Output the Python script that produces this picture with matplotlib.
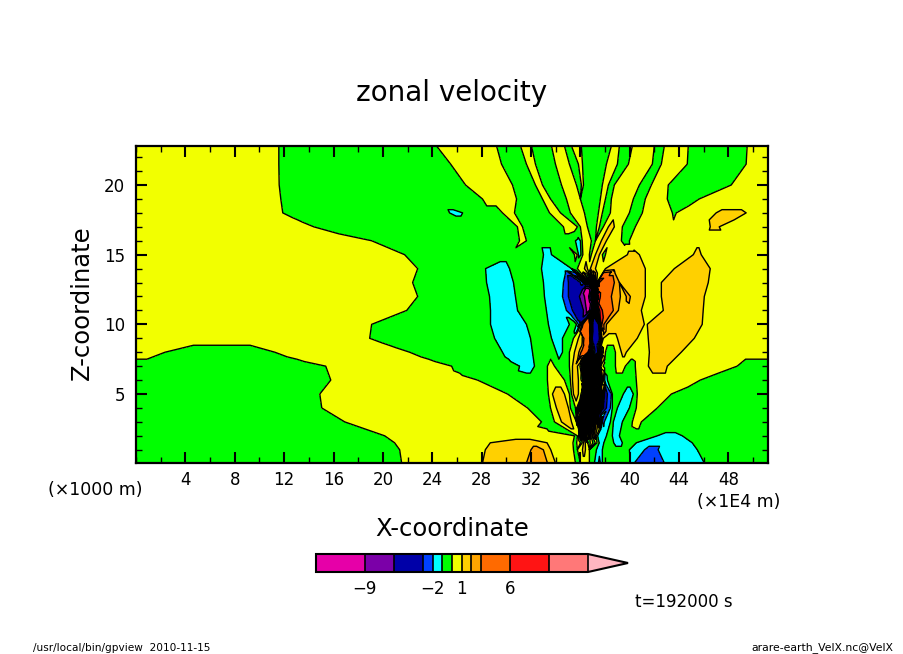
import matplotlib
matplotlib.use("Agg")
import numpy as np
import matplotlib.pyplot as plt
import matplotlib.tri as mtri
from matplotlib.ticker import MultipleLocator

# colour-band centre values (zonal velocity, m/s)
M, P, N, B, C, G, Y, O1, O2, O3, R, S = -11.0, -7.5, -4.5, -2.5, -1.5, -0.5, 0.5, 1.5, 2.5, 4.5, 8.0, 12.0
Ct, Ot = -1.15, 1.15

levels = [-14, -9, -6, -3, -2, -1, 0, 1, 2, 3, 6, 10, 14]
band_colors = ['#e600a8', '#7b00a8', '#0000a8', '#0040ff', '#00ffff', '#00ff00', '#f2ff00',
               '#ffd000', '#ffa500', '#ff6a00', '#ff1414', '#ff7878', '#ffb6c1']
cbar_ticks = [-9, -2, 1, 6]
x_ticks = [4, 8, 12, 16, 20, 24, 28, 32, 36, 40, 44, 48]
X_MAX, Z_MIN, Z_MAX = 51.2, 0.05, 22.8

# values read row by row: (z, first x, [band, edge, band, edge, ... band], last x)
rows = [
 (22.8, 0, [Y,11.57,G,24.35,Y,29.21,G,31.15,Y,32.04,G,33.66,Y,34.71,G,35.28,Y,36.08,G,38.51,Y,39.16,G,40.21,Y,41.99,G,42.8,Y,44.74,G,49.51,Y], X_MAX),
 (21.5, 0, [Y,11.57,G,25.49,Y,29.61,G,31.63,Y,32.36,G,33.98,Y,35.11,G,35.84,Y,36.17,G,38.11,Y,39.0,G,39.89,Y,41.83,G,42.56,Y,44.66,G,49.43,Y], X_MAX),
 (20.0, 0, [Y,11.6,G,26.7,Y,30.5,G,32.36,Y,32.93,G,34.47,Y,35.68,G,36.08,Y,36.25,G,37.78,Y,38.27,G,38.75,Y,40.78,G,41.75,Y,43.12,G,48.22,Y], X_MAX),
 (19.0, 0, [Y,11.73,G,28.07,Y,30.83,G,32.93,Y,33.58,G,34.87,Y,36.0,G,37.62,Y,38.03,G,38.51,Y,40.29,G,41.26,Y,43.04,G,45.63,Y], X_MAX),
 (18.0, 0, [Y,11.89,G,25.4,Ct,26.46,G,29.69,Y,30.66,G,33.5,Y,34.39,G,35.19,Y,36.33,G,37.46,Y,37.78,G,38.43,Y,39.97,G,41.02,Y,43.45,G,43.77,Y,47.0,Ot,49.43,Y], X_MAX),
 (17.5, 44, [Y,46.44,O1,48.46,Y], X_MAX),
 (17.0, 0, [Y,14.4,G,30.9,Y,31.31,G,34.63,Y,35.76,G,36.0,Y,36.57,G,37.3,Y,37.54,G,37.86,Y,38.27,O1,38.75,Y,39.4,G,40.45,Y,46.52,Ot,47.25,Y], X_MAX),
 (16.0, 0, [Y,19.09,G,31.07,Y,31.63,G,35.6,Ct,36.0,G,36.15,Y,36.89,G,37.22,Y,37.7,O1,38.11,Y,39.32,G,39.97,Y], X_MAX),
 (15.0, 0, [Y,21.76,G,33.01,C,33.66,G,35.52,Y,35.75,G,35.85,Ct,36.05,G,36.2,Y,36.73,G,36.89,Y,37.22,O1,37.54,Y,37.78,G,38.03,Y,39.81,O1,40.78,Y,45.15,O1,45.79,Y], X_MAX),
 (14.0, 0, [Y,22.82,G,28.32,C,30.26,G,32.85,C,35.28,G,35.76,Y,36.33,O1,36.57,Y,36.81,O1,37.22,Y,38.03,O1,41.26,Y,43.61,O1,46.52,Y], X_MAX),
 (13.0, 0, [Y,22.41,G,28.4,C,30.58,G,33.01,C,34.63,B,35.03,N,36.0,B,36.25,C,36.33,N,36.41,O1,36.57,N,36.65,O2,36.81,C,36.89,O1,37.06,N,37.14,O3,37.3,Y,37.38,R,37.54,O3,38.75,O2,39.16,O1,41.26,Y,42.56,O1,46.36,Y], X_MAX),
 (12.5, 36.4, [M,36.85,N,37.0,R,37.2,Y,37.4,O3], 37.7),
 (12.0, 0, [Y,22.82,G,28.64,C,30.74,G,33.09,C,34.55,B,35.03,N,35.92,P,36.33,M,36.89,O3,37.06,N,37.14,R,37.3,N,37.38,S,37.46,R,37.62,O3,38.51,O2,39.24,O1,39.72,O2,40.05,O1,41.26,Y,42.56,O1,46.04,Y], X_MAX),
 (11.5, 36.5, [M,36.9,N,37.05,R,37.2,C,37.35,R,37.5,O3], 37.7),
 (11.0, 0, [Y,21.93,G,28.72,C,30.91,G,33.25,C,34.87,B,35.36,N,36.25,P,36.49,M,36.81,N,36.97,O3,37.14,N,37.22,R,37.38,G,37.46,R,37.78,O3,38.67,O2,39.08,O1,40.94,Y,42.72,O1,45.95,Y], X_MAX),
 (10.5, 36.3, [N,36.6,O3,36.75,N,36.9,R,37.05,N,37.2,O2,37.35,N,37.5,R], 37.8),
 (10.0, 0, [Y,19.09,G,28.72,C,31.63,G,33.41,C,35.11,G,35.76,B,36.08,O3,36.9,N,37.55,Y,37.62,R,37.78,O2,38.11,O1,41.18,Y,41.42,O1,45.87,Y], X_MAX),
 (9.5, 36.0, [O3,36.9,N,37.6,O1], 37.8),
 (9.0, 0, [Y,18.93,G,29.05,C,31.96,G,33.66,C,34.55,G,35.44,Y,35.84,O1,36.25,O3,36.85,N,37.54,B,37.7,O1,37.86,Y,39.0,O1,40.61,Y,41.5,O1,45.23,Y], X_MAX),
 (8.5, 35.9, [O1,36.2,O3,36.8,O1,36.95,N,37.5,O1,37.7,Y], 37.9),
 (8.0, 0, [Y,2.35,G,11.25,Y,22.17,G,29.69,C,32.12,G,34.06,C,34.55,G,35.11,Y,35.52,O1,36.0,O3,36.73,N,36.89,O1,37.06,N,37.54,O1,37.62,B,37.78,Y,38.03,G,38.84,Y,39.32,O1,39.72,Y,41.59,O1,44.17,Y], X_MAX),
 (7.5, 35.9, [O1,36.2,N,36.4,O2,36.55,N,36.8,O1,37.0,N,37.2,Y,37.4,N,37.6,O1], 37.9),
 (7.0, 0, [G,15.37,Y,25.57,G,31.07,C,32.28,G,33.33,Y,33.9,G,35.11,Y,35.36,O1,35.76,Y,36.08,N,36.25,O1,36.41,N,36.65,O1,36.81,B,36.97,O1,37.06,N,37.3,Y,37.38,N,37.54,O1,37.7,G,38.84,Y,39.64,G,40.45,Y,41.51,O1,43.04,Y,48.7,G], X_MAX),
 (6.5, 35.9, [Y,36.15,N,36.3,O1,36.45,N,36.6,Y,36.75,B,36.95,O2,37.1,N,37.25,O1,37.45,N,37.65,O1], 37.9),
 (6.0, 0, [G,15.78,Y,27.67,G,33.33,Y,34.71,G,35.19,Y,35.36,O1,35.84,Y,36.17,B,36.33,O1,36.49,N,36.73,O2,36.89,N,37.06,Y,37.22,B,37.38,O1,37.54,N,37.7,O1,37.86,C,38.19,G,40.53,Y,45.71,G], X_MAX),
 (5.5, 35.9, [Y,36.15,O1,36.3,N,36.45,O2,36.6,B,36.75,Y,36.9,N,37.05,O1,37.25,C,37.4,N,37.6,O1], 37.9),
 (5.0, 0, [G,14.89,Y,30.1,G,33.41,Y,33.74,O1,34.71,Y,35.11,G,35.28,Y,35.44,O1,35.84,Y,36.17,N,36.33,O1,36.49,B,36.65,O2,36.81,N,36.97,O1,37.14,B,37.3,Y,37.46,N,37.62,O1,37.86,N,38.19,B,38.51,C,38.59,G,39.48,C,40.29,G,40.61,Y,43.37,G], X_MAX),
 (4.5, 35.8, [Y,36.0,N,36.15,O1,36.3,B,36.5,Y,36.65,N,36.85,O1,37.0,N,37.2,O2,37.4,B,37.6,O1,37.85,N], 38.05),
 (4.0, 0, [G,15.05,Y,31.72,G,33.58,Y,34.06,O1,35.03,Y,35.19,G,35.6,Y,35.76,N,35.92,O1,36.08,B,36.25,Y,36.41,N,36.57,O1,36.73,C,36.89,O2,37.06,N,37.22,Y,37.38,B,37.54,O1,37.78,N,38.11,B,38.43,C,38.59,G,39.0,C,39.97,G,40.53,Y,42.23,G], X_MAX),
 (3.5, 35.8, [Y,36.0,B,36.15,O2,36.3,N,36.5,O1,36.65,B,36.8,Y,37.0,N,37.2,O1,37.4,N,37.65,C], 37.9),
 (3.0, 0, [G,16.91,Y,32.85,G,33.9,Y,34.47,O1,35.28,Y,35.68,G,35.76,N,35.92,O1,36.08,B,36.25,O2,36.41,N,36.57,Y,36.73,B,36.89,O1,37.06,C,37.22,O1,37.38,N,37.54,Y,37.7,B,37.94,C,38.43,G,38.67,C,39.4,G,40.21,Y,40.94,G], X_MAX),
 (2.5, 35.7, [Y,35.95,N,36.1,O1,36.3,C,36.45,O2,36.65,B,36.8,O1,37.0,C,37.15,O1,37.35,Y,37.6,C], 37.9),
 (2.0, 0, [G,20.15,Y,35.52,G,35.76,Y,35.92,B,36.08,O1,36.25,N,36.41,Y,36.57,C,36.73,O1,36.89,G,37.06,O1,37.22,Y,37.3,C,38.11,G,38.59,C,39.16,G,42.23,Ct,44.26,G], X_MAX),
 (1.5, 0, [G,20.95,Y,28.7,O1,33.3,Y,35.4,G,35.7,Y,36.0,G,36.2,O1,36.4,Y,36.6,G,36.8,Y,37.0,G,37.2,Y,37.4,C,37.9,G,38.7,C,39.4,G,40.53,C,45.06,G], X_MAX),
 (1.0, 0, [G,21.36,Y,28.3,O1,32.0,O2,33.0,O1,33.6,Y,35.44,G,35.76,Y,36.17,O1,36.41,Y,36.73,G,37.3,C,37.78,G,39.97,C,41.2,B,42.3,C,45.47,G], X_MAX),
 (0.05, 0, [G,21.52,Y,28.07,O1,31.63,O2,33.33,O1,33.98,Y,35.6,G,36.0,Y,36.73,G,37.14,C,37.46,B,37.62,C,37.78,G,40.05,C,40.37,B,42.8,C,46.04,G], X_MAX),
]


def edge_value(a, b):
    lo, hi = min(a, b), max(a, b)
    between = [v for v in levels if lo < v < hi]
    return float(np.mean(between)) if between else (a + b) / 2


def knots(x0, seq, x1):
    """Turn a row's bands into (x, u) knots."""
    bands = seq[0::2]
    edges = [x0] + seq[1::2] + [x1]
    out = []
    for i, band in enumerate(bands):
        a, b = edges[i], edges[i + 1]
        out.append((a, edge_value(bands[i - 1], band) if i > 0 else band))
        for frac in ((0.25, 0.5, 0.75) if b - a > 0.6 else (0.5,)):
            out.append((a + frac * (b - a), band))
    out.append((x1, bands[-1]))
    return np.array(out)


def stitch(a, b):
    """Monotone pairing of two rows' knots that joins like values with like."""
    n, m = len(a), len(b)
    pair = 3.0 * np.minimum(np.abs(a[:, 1][:, None] - b[:, 1][None, :]), 5.0) \
        + np.abs(a[:, 0][:, None] - b[:, 0][None, :])
    cost = np.full((n, m), np.inf)
    back = np.zeros((n, m), dtype=int)
    cost[0, 0] = pair[0, 0]
    for i in range(n):
        for j in range(m):
            if i == 0 and j == 0:
                continue
            opts = [cost[i - 1, j] if i else np.inf, cost[i, j - 1] if j else np.inf,
                    cost[i - 1, j - 1] if i and j else np.inf]
            k = int(np.argmin(opts))
            cost[i, j] = opts[k] + pair[i, j]
            back[i, j] = k
    path = [(n - 1, m - 1)]
    while path[-1] != (0, 0):
        i, j = path[-1]
        path.append({0: (i - 1, j), 1: (i, j - 1), 2: (i - 1, j - 1)}[back[i, j]])
    return path[::-1]


# complete the partial rows from the neighbouring full rows
full = [i for i, r in enumerate(rows) if r[1] == 0 and r[3] == X_MAX]
row_knots = {i: knots(rows[i][1], rows[i][2], rows[i][3]) for i in range(len(rows))}
for i, (z, x0, seq, x1) in enumerate(rows):
    if i in full:
        continue
    above = max(k for k in full if k < i)
    below = min(k for k in full if k > i)
    ka, kb = row_knots[above], row_knots[below]
    t = (rows[above][0] - z) / (rows[above][0] - rows[below][0])
    mid = np.array([ka[p] * (1 - t) + kb[q] * t for p, q in stitch(ka, kb)])
    mid = mid[(mid[:, 0] < x0 - 0.02) | (mid[:, 0] > x1 + 0.02)]
    merged = np.vstack([mid, row_knots[i]])
    merged = merged[np.argsort(merged[:, 0])]
    keep = np.r_[True, np.diff(merged[:, 0]) > 1e-3]
    row_knots[i] = merged[keep]

xs, zs, us, triangles = [], [], [], []
offset = []
for i, r in enumerate(rows):
    offset.append(len(xs))
    xs.extend(row_knots[i][:, 0])
    us.extend(row_knots[i][:, 1])
    zs.extend([r[0]] * len(row_knots[i]))
for i in range(len(rows) - 1):
    path = stitch(row_knots[i], row_knots[i + 1])
    for (p0, q0), (p1, q1) in zip(path[:-1], path[1:]):
        a0, b0, a1, b1 = offset[i] + p0, offset[i + 1] + q0, offset[i] + p1, offset[i + 1] + q1
        if p0 != p1 and q0 != q1:
            triangles += [[a0, a1, b0], [a1, b1, b0]]
        else:
            triangles.append([a0, b0, a1] if p0 != p1 else [a0, b0, b1])

fig = plt.figure(figsize=(9.04, 6.54), dpi=100)
W, H = 904, 654
ax = fig.add_axes([136 / W, (H - 463) / H, (768 - 136) / W, (463 - 146) / H])

tri = mtri.Triangulation(np.array(xs), np.array(zs), triangles=np.array(triangles))
cf = ax.tricontourf(tri, np.array(us), levels=levels, colors=band_colors, extend='max')
ax.tricontour(tri, np.array(us), levels=levels, colors='k', linewidths=1.0, linestyles='solid')

ax.set_xlim(0, X_MAX)
ax.set_ylim(Z_MIN, Z_MAX)
ax.set_xticks(x_ticks)
ax.xaxis.set_minor_locator(MultipleLocator(2))
ax.yaxis.set_major_locator(MultipleLocator(5))
ax.yaxis.set_minor_locator(MultipleLocator(1))
ax.tick_params(which='major', direction='in', length=8, width=1.5, top=True, right=True, labelsize=12, pad=8)
ax.tick_params(axis='x', which='major', pad=6)
ax.tick_params(which='minor', direction='in', length=4, width=1.0, top=True, right=True)
for s in ax.spines.values():
    s.set_linewidth(1.6)

fs = 'DejaVu Sans'
fig.text(452 / W, 1 - 93 / H, 'zonal velocity', ha='center', va='center', fontsize=20, family=fs)
fig.text(452 / W, 1 - 529 / H, 'X-coordinate', ha='center', va='center', fontsize=17.5, family=fs)
fig.text(82 / W, 1 - 303 / H, 'Z-coordinate', ha='center', va='center', rotation=90, fontsize=17.5, family=fs)
fig.text(95 / W, 1 - 490 / H, '(×1000 m)', ha='center', va='center', fontsize=12.5, family=fs)
fig.text(739 / W, 1 - 502 / H, '(×1E4 m)', ha='center', va='center', fontsize=12.5, family=fs)
fig.text(684 / W, 1 - 602 / H, 't=192000 s', ha='center', va='center', fontsize=12, family=fs)
fig.text(33 / W, 1 - 648 / H, '/usr/local/bin/gpview  2010-11-15', ha='left', va='center', fontsize=7.6, family=fs)
fig.text(893 / W, 1 - 648 / H, 'arare-earth_VelX.nc@VelX', ha='right', va='center', fontsize=7.8, family=fs)

cax = fig.add_axes([316 / W, (H - 572) / H, (628 - 316) / W, 18 / H])
cb = fig.colorbar(cf, cax=cax, orientation='horizontal', spacing='proportional', extend='max',
                  extendfrac=40 / 272, ticks=cbar_ticks, drawedges=True)
cb.ax.tick_params(length=0, labelsize=12, pad=6)
cb.ax.minorticks_off()
cb.outline.set_linewidth(1.5)
cb.dividers.set_linewidth(1.2)

fig.savefig('out.png', dpi=100)
